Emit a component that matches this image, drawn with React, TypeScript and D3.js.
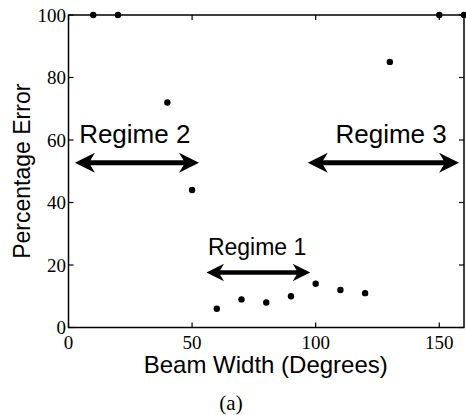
import React from "react";
import * as d3 from "d3";

const beamWidth = [10, 20, 40, 50, 60, 70, 80, 90, 100, 110, 120, 130, 150, 160];
const percentError = [100, 100, 72, 44, 6, 9, 8, 10, 14, 12, 11, 85, 100, 100];
const xTicks = [0, 50, 100, 150];
const yTicks = [0, 20, 40, 60, 80, 100];

const regimeLabels = ["Regime 2", "Regime 3", "Regime 1"];
const regimeTextX = [4.3, 108, 56.4];
const regimeTextY = [59, 59, 23.2];
const regimeArrowX1 = [2.6, 96.8, 55.8];
const regimeArrowX2 = [52.8, 158, 97.8];
const regimeArrowY = [52.7, 52.7, 17.6];
const regimeSize = [26, 26, 23];

const W = 466;
const H = 415;
const margin = { left: 68.5, right: 2, top: 15, bottom: 87.5 };

const x = d3.scaleLinear().domain([0, 160]).range([margin.left, W - margin.right]);
const y = d3.scaleLinear().domain([0, 100]).range([H - margin.bottom, margin.top]);

function arrowHead(tx: number, ty: number, dir: number, s: number) {
  const len = 20 * s;
  const half = 10 * s;
  const notch = 6 * s;
  return `M${tx},${ty} L${tx - dir * len},${ty - half} L${tx - dir * (len - notch)},${ty} L${tx - dir * len},${ty + half} Z`;
}

export default function App() {
  const sans = "'Liberation Sans', Arial, Helvetica, sans-serif";
  const serif = "'Liberation Serif', 'Times New Roman', serif";
  const x0 = x(0), x1 = x(160), y0 = y(0), y1 = y(100);
  const tick = 5;
  return (
    <svg width={W} height={H} style={{ position: "absolute", left: 0, top: 0 }} viewBox={`0 0 ${W} ${H}`}>
      <rect x={0} y={0} width={W} height={H} fill="#fff" />
      <rect x={x0} y={y1} width={x1 - x0} height={y0 - y1} fill="none" stroke="#000" strokeWidth={1.5} />
      {xTicks.map((t) => (
        <g key={"xt" + t}>
          <line x1={x(t)} x2={x(t)} y1={y0} y2={y0 - tick} stroke="#000" strokeWidth={1.2} />
          <line x1={x(t)} x2={x(t)} y1={y1} y2={y1 + tick} stroke="#000" strokeWidth={1.2} />
          <text x={x(t)} y={y0 + 21} textAnchor="middle" fontFamily={serif} fontSize={19}>
            {t}
          </text>
        </g>
      ))}
      {yTicks.map((t) => (
        <g key={"yt" + t}>
          <line x1={x0} x2={x0 + tick} y1={y(t)} y2={y(t)} stroke="#000" strokeWidth={1.2} />
          <line x1={x1} x2={x1 - tick} y1={y(t)} y2={y(t)} stroke="#000" strokeWidth={1.2} />
          <text x={x0 - 2.5} y={y(t) + 6.5} textAnchor="end" fontFamily={serif} fontSize={19}>
            {t}
          </text>
        </g>
      ))}
      {beamWidth.map((b, i) => (
        <circle key={"p" + i} cx={x(b)} cy={y(percentError[i])} r={3.2} fill="#000" />
      ))}
      {regimeLabels.map((lab, i) => {
        const s = regimeSize[i] === 26 ? 1 : 0.88;
        const ax1 = x(regimeArrowX1[i]);
        const ax2 = x(regimeArrowX2[i]);
        const ay = y(regimeArrowY[i]);
        return (
          <g key={"r" + i}>
            <text x={x(regimeTextX[i])} y={y(regimeTextY[i])} fontFamily={sans} fontSize={regimeSize[i]}>
              {lab}
            </text>
            <line x1={ax1 + 10 * s} x2={ax2 - 10 * s} y1={ay} y2={ay} stroke="#000" strokeWidth={5 * s} />
            <path d={arrowHead(ax2, ay, 1, s)} fill="#000" />
            <path d={arrowHead(ax1, ay, -1, s)} fill="#000" />
          </g>
        );
      })}
      <text x={(x0 + x1) / 2 - 0.5} y={373} textAnchor="middle" fontFamily={sans} fontSize={24}>
        Beam Width (Degrees)
      </text>
      <text
        transform={`translate(29.5, ${(y0 + y1) / 2}) rotate(-90)`}
        textAnchor="middle"
        fontFamily={sans}
        fontSize={23}
      >
        Percentage Error
      </text>
      <text x={231} y={410} textAnchor="middle" fontFamily={serif} fontSize={21}>
        (a)
      </text>
    </svg>
  );
}
